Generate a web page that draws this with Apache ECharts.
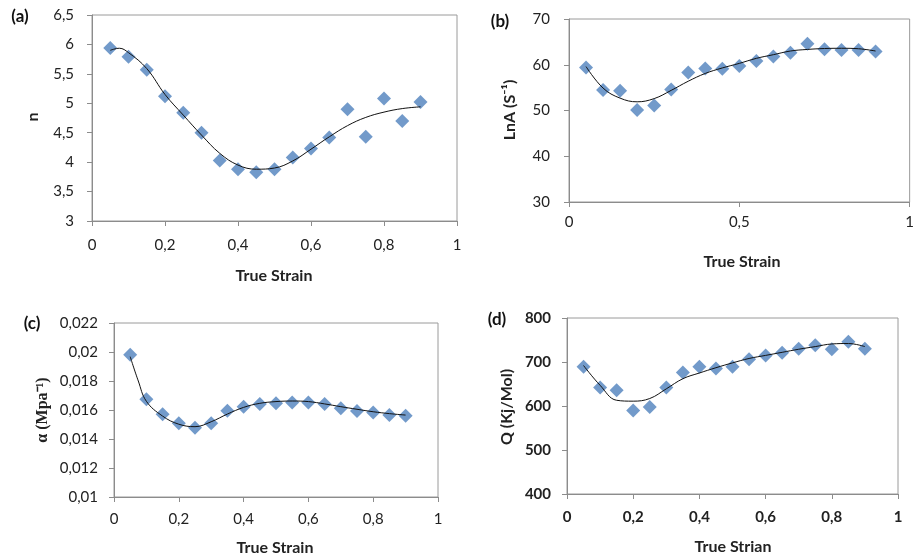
<!DOCTYPE html>
<html><head><meta charset="utf-8">
<script src="https://cdn.jsdelivr.net/npm/echarts@6/dist/echarts.min.js"></script>
<style>html,body{margin:0;padding:0;background:#fff}#c{width:917px;height:560px}</style>
</head><body><div id="c"></div>
<script>
const strain = [0.05,0.1,0.15,0.2,0.25,0.3,0.35,0.4,0.45,0.5,0.55,0.6,0.65,0.7,0.75,0.8,0.85,0.9];
const fitStrainFine = [0.05,0.075,0.1,0.15,0.2,0.25,0.3,0.35,0.4,0.45,0.5,0.55,0.6,0.65,0.7,0.75,0.8,0.85,0.9];
const nVals   = [5.94,5.79,5.57,5.12,4.84,4.50,4.03,3.88,3.83,3.88,4.08,4.23,4.42,4.90,4.43,5.08,4.70,5.02];
const nFit    = [5.90,5.935,5.86,5.59,5.15,4.80,4.46,4.15,3.95,3.88,3.90,4.02,4.22,4.43,4.62,4.76,4.85,4.91,4.94];
const lnAVals = [59.4,54.5,54.3,50.1,51.1,54.6,58.3,59.2,59.1,59.7,60.8,61.8,62.6,64.6,63.4,63.2,63.2,62.9];
const lnAFit  = [59.6,54.9,52.7,51.9,52.6,54.4,56.4,58.1,59.3,60.3,61.4,62.2,63.0,63.35,63.55,63.6,63.5,63.0];
const alphaVals = [0.01981,0.01674,0.0157,0.01508,0.01478,0.01508,0.01595,0.01623,0.01642,0.01646,0.01651,0.01651,0.01642,0.01612,0.01593,0.01582,0.01565,0.01561];
const alphaFit  = [0.01968,0.0180,0.0166,0.01558,0.01502,0.01485,0.01519,0.01572,0.01618,0.01646,0.01658,0.01662,0.01658,0.01642,0.01623,0.01605,0.01588,0.01575,0.01565];
const qVals = [689,642,636,590,598,642,676,689,685,689,706,715,721,730,738,729,746,730];
const qFit  = [692,647,613,611,617,639,662,675,687,698,708,715,722,729,735,741,742,735];

const FONT = 'Lato';
const pair = (xs, ys) => xs.map((x, i) => [x, ys[i]]);
const fmt = (v) => String(+v.toFixed(6)).replace('.', ',');

const grids = [
  {left: 92, top: 15, width: 365, height: 206},
  {left: 569, top: 19, width: 346, height: 183},
  {left: 114, top: 323, width: 324, height: 174},
  {left: 567, top: 318, width: 331, height: 176}
];
const yCfg = [
  {min: 3, max: 6.5, interval: 0.5, margin: 18, bold: false},
  {min: 30, max: 70, interval: 10, margin: 19, bold: false},
  {min: 0.01, max: 0.022, interval: 0.002, margin: 16, bold: false},
  {min: 400, max: 800, interval: 100, margin: 16, bold: true}
];
const xCfg = [
  {interval: 0.2, margin: 17, bold: false},
  {interval: 0.5, margin: 13, bold: false},
  {interval: 0.2, margin: 15, bold: false},
  {interval: 0.2, margin: 16, bold: true}
];
const axisLine = {show: true, lineStyle: {color: '#8c8c8c', width: 1}};
const axisTick = {show: true, length: 5, lineStyle: {color: '#8c8c8c'}};

const panels = [
  [strain, nVals, fitStrainFine, nFit],
  [strain, lnAVals, strain, lnAFit],
  [strain, alphaVals, fitStrainFine, alphaFit],
  [strain, qVals, strain, qFit]
];

const option = {
  animation: false,
  backgroundColor: '#fff',
  grid: grids.map(g => Object.assign({show: true, borderColor: '#9a9a9a', borderWidth: 1, backgroundColor: 'transparent'}, g)),
  xAxis: xCfg.map((c, i) => ({
    type: 'value', gridIndex: i, min: 0, max: 1, interval: c.interval,
    axisLine, axisTick, splitLine: {show: false},
    axisLabel: {formatter: fmt, fontFamily: FONT, fontSize: 15, color: '#222', margin: c.margin, fontWeight: c.bold ? 'bold' : 'normal'}
  })),
  yAxis: yCfg.map((c, i) => ({
    type: 'value', gridIndex: i, min: c.min, max: c.max, interval: c.interval,
    axisLine, axisTick, splitLine: {show: false},
    axisLabel: {formatter: fmt, fontFamily: FONT, fontSize: 15, color: '#222', margin: c.margin, fontWeight: c.bold ? 'bold' : 'normal'}
  })),
  series: panels.flatMap(([xs, v, fx, f], i) => [
    {type: 'scatter', xAxisIndex: i, yAxisIndex: i, data: pair(xs, v), symbol: 'diamond', symbolSize: 14,
     itemStyle: {color: '#4f81bd'}, z: 2},
    {type: 'line', xAxisIndex: i, yAxisIndex: i, data: pair(fx, f), smooth: 0.4, showSymbol: false,
     lineStyle: {color: '#111', width: 1}, z: 3}
  ]),
  graphic: [
    {type: 'text', x: 20, y: 17, style: {text: '(a)', font: 'bold 17px Lato', fill: '#111', align: 'center', verticalAlign: 'middle'}},
    {type: 'text', x: 500, y: 22, style: {text: '(b)', font: 'bold 17px Lato', fill: '#111', align: 'center', verticalAlign: 'middle'}},
    {type: 'text', x: 32, y: 324, style: {text: '(c)', font: 'bold 17px Lato', fill: '#111', align: 'center', verticalAlign: 'middle'}},
    {type: 'text', x: 497, y: 320, style: {text: '(d)', font: 'bold 17px Lato', fill: '#111', align: 'center', verticalAlign: 'middle'}},
    {type: 'text', x: 274, y: 276, style: {text: 'True Strain', font: 'bold 16px Lato', fill: '#222', align: 'center', verticalAlign: 'middle'}},
    {type: 'text', x: 742, y: 262, style: {text: 'True Strain', font: 'bold 16px Lato', fill: '#222', align: 'center', verticalAlign: 'middle'}},
    {type: 'text', x: 275, y: 548, style: {text: 'True Strain', font: 'bold 16px Lato', fill: '#222', align: 'center', verticalAlign: 'middle'}},
    {type: 'text', x: 733, y: 547, style: {text: 'True Strian', font: 'bold 16px Lato', fill: '#222', align: 'center', verticalAlign: 'middle'}},
    {type: 'text', x: 33, y: 117, rotation: Math.PI / 2, style: {text: 'n', font: 'bold 16px Lato', fill: '#222', align: 'center', verticalAlign: 'middle'}},
    {type: 'text', x: 510, y: 110, rotation: Math.PI / 2, style: {text: 'LnA (S⁻¹)', font: 'bold 16px Lato', fill: '#222', align: 'center', verticalAlign: 'middle'}},
    {type: 'text', x: 43, y: 410, rotation: Math.PI / 2, style: {text: 'α (Mpa⁻¹)', font: 'bold 16px "Liberation Serif"', fill: '#222', align: 'center', verticalAlign: 'middle'}},
    {type: 'text', x: 507, y: 407, rotation: Math.PI / 2, style: {text: 'Q (Kj/Mol)', font: 'bold 16px Lato', fill: '#222', align: 'center', verticalAlign: 'middle'}}
  ]
};
echarts.init(document.getElementById('c'), null, {renderer: 'canvas'}).setOption(option);
</script></body></html>
